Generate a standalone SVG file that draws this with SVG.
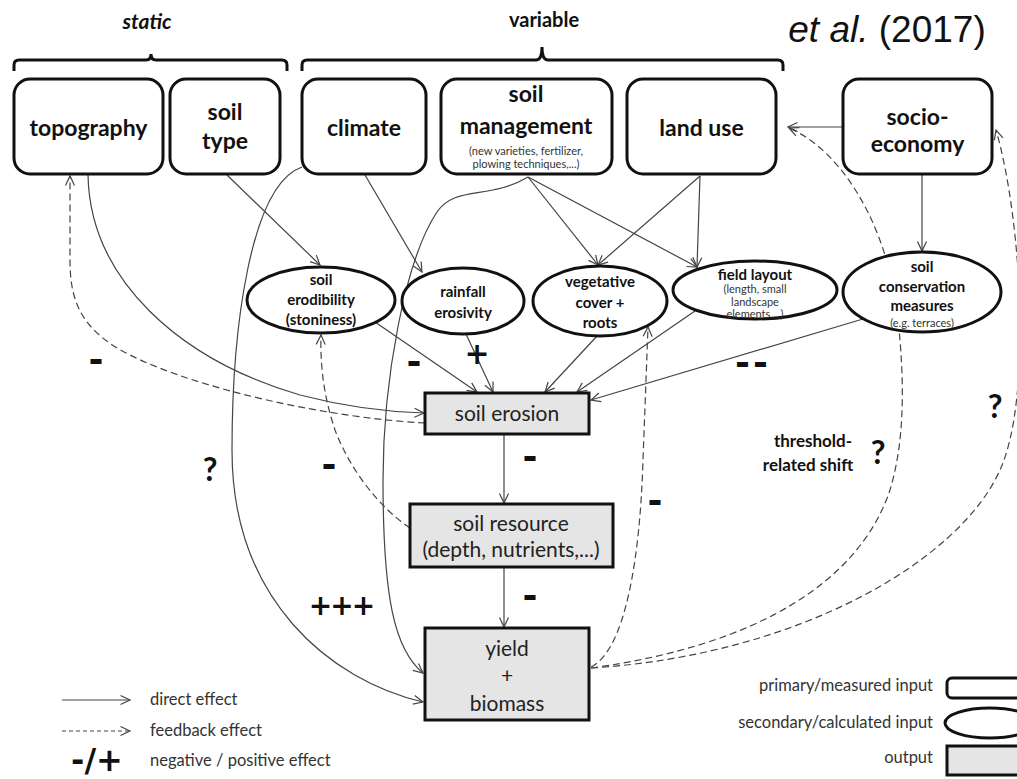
<svg xmlns="http://www.w3.org/2000/svg" width="1017" height="779" viewBox="0 0 1017 779">
<defs>
<marker id="ah" markerUnits="userSpaceOnUse" markerWidth="14" markerHeight="14" refX="10" refY="5" orient="auto" overflow="visible">
<path d="M0.5,0.5 L10,5 L0.5,9.5" fill="none" stroke="#444" stroke-width="1.2"/>
</marker>
<style>
.box{fill:#fff;stroke:#111;stroke-width:3}
.out{fill:#e5e5e5;stroke:#111;stroke-width:3}
.c{fill:none;stroke:#444;stroke-width:1.2;marker-end:url(#ah)}
.d{fill:none;stroke:#444;stroke-width:1.2;stroke-dasharray:7,4;marker-end:url(#ah)}
.br{fill:none;stroke:#111;stroke-width:3}
text{font-family:Lato,"Open Sans",sans-serif;fill:#111;text-anchor:middle}
.big{font-size:23px;font-weight:bold}
.ell{font-size:15px;font-weight:bold}
.sm{font-size:11px;fill:#333}
.o{font-size:21px;fill:#222}
.lg{font-size:16.5px;fill:#333;text-anchor:start}
.lr{font-size:16.5px;fill:#333;text-anchor:end}
.sg{font-family:"DejaVu Sans",sans-serif;font-weight:bold;font-size:36px}
.q{font-size:32px;font-weight:bold}
</style>
</defs>
<g id="headers">
<path class="br" d="M14,71 L14,65 Q14,60 19,60 L146,60 Q151,60 151,54 Q151,60 156,60 L282,60 Q287,60 287,65 L287,71"/>
<path class="br" d="M302,71 L302,65 Q302,60 307,60 L536,60 Q542,60 542,47 Q542,60 548,60 L778,60 Q783,60 783,65 L783,71"/>
<text x="147" y="29" style="font-size:21px;font-weight:bold;font-style:italic">static</text>
<text x="544" y="27" style="font-size:20px;font-weight:bold">variable</text>
<text x="887" y="42" style="font-family:'Liberation Sans',Arial,sans-serif;font-size:37px"><tspan font-style="italic">et al.</tspan> (2017)</text>
</g>
<g id="connectors">
<path class="c" d="M227,175 L320,265"/>
<path class="c" d="M365,175 L422,272"/>
<path class="c" d="M528,177 L598,265"/>
<path class="c" d="M528,177 L697,267"/>
<path class="c" d="M700,176 L598,265"/>
<path class="c" d="M700,176 L697,267"/>
<path class="c" d="M922,175 L922,251"/>
<path class="c" d="M843,127 L788,127"/>
<path class="c" d="M375,322 L477,392"/>
<path class="c" d="M466,334 L493,392"/>
<path class="c" d="M598,335 L545,392"/>
<path class="c" d="M695,311 L577,392"/>
<path class="c" d="M863,319 L591,400"/>
<path class="c" d="M504,435 L504,503"/>
<path class="c" d="M504,568 L504,627"/>
<path class="c" d="M88,175 C90,280 180,360 300,395 C350,408 390,412 424,413"/>
<path class="d" d="M425,423 C330,418 200,390 130,355 C80,330 70,300 70,260 L70,176"/>
<path class="c" d="M302,167 C250,185 232,330 232,450 C232,600 330,680 423,702"/>
<path class="c" d="M528,177 C490,200 455,185 437,212 C405,260 383,380 383,480 C383,600 395,650 423,673"/>
<path class="d" d="M410,528 C380,508 350,470 335,430 C325,400 320,370 321,335"/>
<path class="d" d="M591,667 C625,650 640,560 643,460 L648,327"/>
<path class="d" d="M591,668 C760,645 860,580 890,490 C905,440 905,380 897,310 C885,220 840,150 789,128"/>
<path class="d" d="M591,668 C800,655 960,560 1000,470 C1032,400 1022,220 996,130"/>
</g>
<g id="topography"><rect class="box" x="14" y="79" width="149" height="95" rx="16"/><text class="big" x="88.5" y="136">topography</text></g>
<g id="soil-type"><rect class="box" x="170" y="79" width="110" height="95" rx="16"/><text class="big" x="225" y="120">soil</text><text class="big" x="225" y="149">type</text></g>
<g id="climate"><rect class="box" x="302" y="79" width="124" height="95" rx="16"/><text class="big" x="364" y="136">climate</text></g>
<g id="soil-management"><rect class="box" x="441" y="79" width="171" height="95" rx="16"/><text class="big" x="526" y="102">soil</text><text class="big" x="526" y="134">management</text><text class="sm" x="526" y="155">(new varieties, fertilizer,</text><text class="sm" x="526" y="168">plowing techniques,...)</text></g>
<g id="land-use"><rect class="box" x="627" y="79" width="149" height="95" rx="16"/><text class="big" x="701.5" y="136">land use</text></g>
<g id="socio-economy"><rect class="box" x="843" y="79" width="149" height="95" rx="16"/><text class="big" x="917.5" y="125">socio-</text><text class="big" x="917.5" y="152">economy</text></g>
<g id="soil-erodibility"><ellipse class="box" cx="321" cy="300" rx="74" ry="33"/><text class="ell" x="321" y="285">soil</text><text class="ell" x="321" y="305">erodibility</text><text class="ell" x="321" y="325">(stoniness)</text></g>
<g id="rainfall-erosivity"><ellipse class="box" cx="463" cy="301" rx="61" ry="33"/><text class="ell" x="463" y="297">rainfall</text><text class="ell" x="463" y="318">erosivity</text></g>
<g id="vegetative-cover"><ellipse class="box" cx="600" cy="301" rx="67" ry="35"/><text class="ell" x="600" y="287">vegetative</text><text class="ell" x="600" y="308">cover +</text><text class="ell" x="600" y="328">roots</text></g>
<g id="field-layout"><ellipse class="box" cx="755" cy="290" rx="82" ry="29"/><text class="ell" x="755" y="280">field layout</text><text class="sm" x="755" y="293">(length, small</text><text class="sm" x="755" y="306">landscape</text><text class="sm" x="755" y="318">elements,...)</text></g>
<g id="soil-conservation"><ellipse class="box" cx="922" cy="292" rx="79" ry="40"/><text class="ell" x="922" y="272">soil</text><text class="ell" x="922" y="292">conservation</text><text class="ell" x="922" y="311">measures</text><text class="sm" x="922" y="327">(e.g. terraces)</text></g>
<g id="soil-erosion"><rect class="out" x="425" y="393" width="164" height="41"/><text class="o" x="507" y="421">soil erosion</text></g>
<g id="soil-resource"><rect class="out" x="410" y="504" width="203" height="63"/><text class="o" x="511" y="531">soil resource</text><text class="o" x="511" y="557">(depth, nutrients,...)</text></g>
<g id="yield-biomass"><rect class="out" x="425" y="628" width="164" height="92"/><text class="o" x="507" y="656">yield</text><text class="o" x="507" y="683">+</text><text class="o" x="507" y="711">biomass</text></g>
<g id="labels">
<text class="sg" x="96" y="372">-</text>
<text class="sg" x="414" y="374">-</text>
<text class="sg" x="329" y="477">-</text>
<text class="sg" x="530" y="469">-</text>
<text class="sg" x="530" y="608">-</text>
<text class="sg" x="655" y="513">-</text>
<text class="sg" x="753" y="375" letter-spacing="3">--</text>
<text class="sg" x="477" y="364" style="font-size:30px">+</text>
<text class="sg" x="341" y="615" style="font-size:28px" letter-spacing="-2">+++</text>
<text class="q" x="210" y="481">?</text>
<text class="q" x="878" y="464">?</text>
<text class="q" x="995" y="418">?</text>
<text x="813" y="447" style="font-size:17px;font-weight:bold">threshold-</text>
<text x="808" y="471" style="font-size:17px;font-weight:bold">related shift</text>
</g>
<g id="legend">
<path class="c" d="M62,700 L130,700"/>
<path class="d" d="M62,731 L130,731" style="stroke-dasharray:4,3"/>
<text class="lg" x="150" y="705">direct effect</text>
<text class="lg" x="150" y="736">feedback effect</text>
<text class="sg" x="97" y="771" style="font-size:32px">-/+</text>
<text class="lg" x="150" y="766">negative / positive effect</text>
<text class="lr" x="933" y="691">primary/measured input</text>
<text class="lr" x="933" y="728">secondary/calculated input</text>
<text class="lr" x="933" y="763">output</text>
<rect class="box" x="947" y="678" width="80" height="20" rx="5"/>
<ellipse class="box" cx="990" cy="723" rx="45" ry="15"/>
<rect class="out" x="947" y="746" width="80" height="29"/>
</g>
</svg>
